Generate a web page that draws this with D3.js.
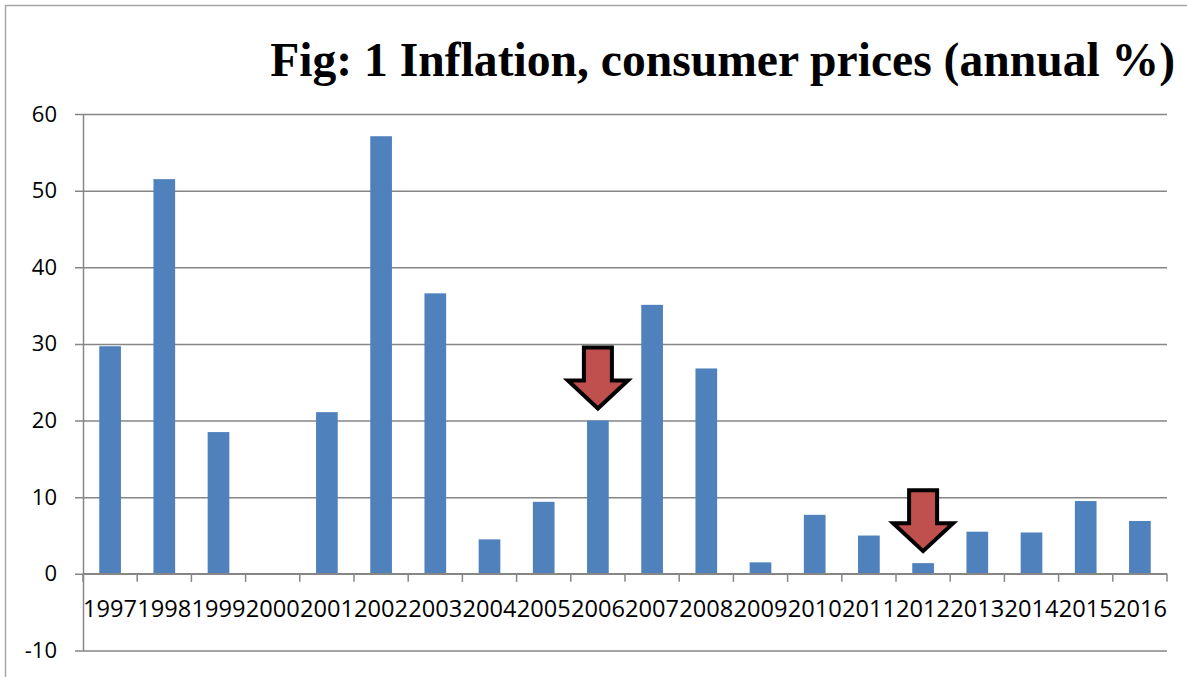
<!DOCTYPE html>
<html>
<head>
<meta charset="utf-8">
<script src="https://cdn.jsdelivr.net/npm/d3@7"></script>
<style>
  body { margin: 0; background: #fff; }
  svg { display: block; }
</style>
</head>
<body>
<svg class="canvas"></svg>
<script>
// chart data
const years = ["1997","1998","1999","2000","2001","2002","2003","2004","2005","2006",
               "2007","2008","2009","2010","2011","2012","2013","2014","2015","2016"];
const inflation = [29.7, 51.5, 18.5, 0.1, 21.1, 57.1, 36.6, 4.5, 9.4, 20.0,
                   35.1, 26.8, 1.5, 7.7, 5.0, 1.4, 5.5, 5.4, 9.5, 6.9];
const yTicks = [-10, 0, 10, 20, 30, 40, 50, 60];
const arrowYears = ["2006", "2012"];
const title = "Fig: 1 Inflation, consumer prices (annual %)";

// sizes
const wWidth = 1187;
const wHeight = 677;
const margin = {top: 114, right: 20, bottom: 26, left: 83};
const graphWidth = 1167 - margin.left;
const graphHeight = 650.5 - margin.top;

const svg = d3.select('.canvas')
  .attr('width', wWidth)
  .attr('height', wHeight);

// outer chart frame (cropped on the right / bottom)
svg.append('rect')
  .attr('x', 5.5).attr('y', 5.5)
  .attr('width', 1300).attr('height', 800)
  .attr('fill', 'none')
  .attr('stroke', '#a6a6a6')
  .attr('stroke-width', 1.5);

// title
svg.append('text')
  .attr('x', 1175)
  .attr('y', 76)
  .attr('text-anchor', 'end')
  .style('font-family', '"Liberation Serif", "Times New Roman", serif')
  .style('font-weight', 'bold')
  .style('font-size', '47.6px')
  .text(title);

const graph = svg.append('g')
  .attr('transform', `translate(${margin.left}, ${margin.top})`);

// scales
const xScale = d3.scaleBand()
  .domain(years)
  .range([0, graphWidth])
  .paddingInner(0.6)
  .paddingOuter(0.3);

const yScale = d3.scaleLinear()
  .domain([-10, 60])
  .range([graphHeight, 0]);

// y axis + gridlines
const yAxis = d3.axisLeft(yScale)
  .tickValues(yTicks)
  .tickFormat(d => String(d))
  .tickSizeInner(-graphWidth)
  .tickSizeOuter(0)
  .tickPadding(26);

const yAxisGroup = graph.append('g').call(yAxis);
yAxisGroup.select('.domain').attr('stroke', '#868686').attr('stroke-width', 1.5);
yAxisGroup.selectAll('.tick line')
  .attr('x1', -8)
  .attr('stroke', '#868686')
  .attr('stroke-width', 1.5);
yAxisGroup.selectAll('.tick text')
  .style('font-family', '"Open Sans", sans-serif')
  .style('font-size', '22px')
  .attr('fill', '#000');

// bars
graph.selectAll('rect.bar')
  .data(inflation)
  .enter()
  .append('rect')
  .attr('class', 'bar')
  .attr('x', (d, i) => xScale(years[i]))
  .attr('y', d => yScale(Math.max(d, 0)))
  .attr('width', xScale.bandwidth())
  .attr('height', d => Math.abs(yScale(d) - yScale(0)))
  .attr('fill', '#4F81BD');

// x axis at zero
const xAxisGroup = graph.append('g')
  .attr('transform', `translate(0, ${yScale(0)})`);

xAxisGroup.append('line')
  .attr('x1', 0).attr('x2', graphWidth)
  .attr('stroke', '#868686')
  .attr('stroke-width', 1.5);

// ticks sit between categories
const boundaries = d3.range(years.length + 1).map(i => i * xScale.step());
xAxisGroup.selectAll('line.tick')
  .data(boundaries)
  .enter()
  .append('line')
  .attr('class', 'tick')
  .attr('x1', d => d).attr('x2', d => d)
  .attr('y1', 0).attr('y2', 8)
  .attr('stroke', '#868686')
  .attr('stroke-width', 1.5);

const xAxis = d3.axisBottom(xScale).tickSize(0).tickPadding(26);
const xLabels = xAxisGroup.append('g').call(xAxis);
xLabels.select('.domain').remove();
xLabels.selectAll('.tick text')
  .style('font-family', '"Open Sans", sans-serif')
  .style('font-size', '23.6px')
  .attr('fill', '#000');

// red arrows pointing at the highlighted bars
const arrowPath = 'M-14,-61 L14,-61 L14,-28 L30,-28 L0,0 L-30,-28 L-14,-28 Z';
graph.selectAll('path.arrow')
  .data(arrowYears)
  .enter()
  .append('path')
  .attr('class', 'arrow')
  .attr('d', arrowPath)
  .attr('transform', d => {
    const v = inflation[years.indexOf(d)];
    return `translate(${xScale(d) + xScale.bandwidth() / 2}, ${yScale(v) - 12})`;
  })
  .attr('fill', '#C0504D')
  .attr('stroke', '#000')
  .attr('stroke-width', 4)
  .attr('stroke-linejoin', 'miter');
</script>
</body>
</html>
